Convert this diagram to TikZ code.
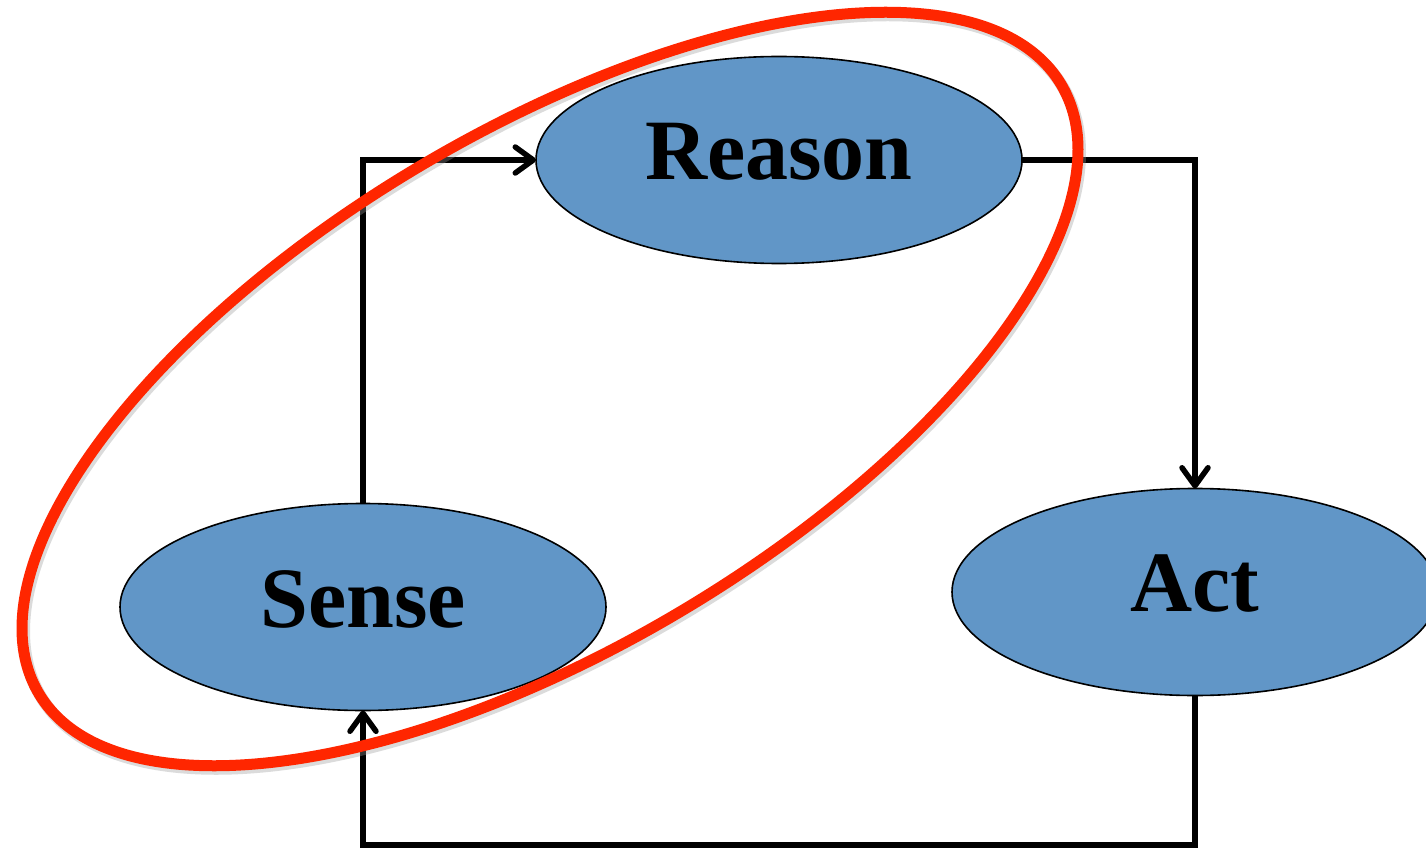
\documentclass[tikz,border=0pt]{standalone}
\usepackage{fontspec}
\setmainfont{Liberation Serif}
\usetikzlibrary{shapes.geometric,arrows.meta}
\definecolor{nodeblue}{RGB}{97,150,199}
\definecolor{ringred}{RGB}{255,38,0}
\begin{document}
\begin{tikzpicture}[x=1pt,y=-1pt,
  blob/.style={ellipse,draw=black,line width=1.6pt,fill=nodeblue,
    minimum width=486pt,minimum height=207pt,inner sep=0pt,outer sep=0pt},
  lbl/.style={font=\bfseries\fontsize{86}{86}\selectfont,inner sep=0pt},
  conn/.style={line width=5.5pt,line join=miter,
    -{Straight Barb[length=18pt,width=26pt,line cap=round,line join=round]}}]
\useasboundingbox (0,0) rectangle (1426,850);
\clip (0,0) rectangle (1426,850);
\fill[white] (0,0) rectangle (1426,850);
% nodes
\node[blob] (reason) at (779,160) {};
\node[blob] (sense) at (363,607) {};
\node[blob] (act) at (1195,592) {};
\node[lbl] (treason) at (779,152) {Reason};
\node[lbl] (tsense) at (363,599) {Sense};
\node[lbl] (tact) at (1195,584) {Act};
% connectors
\coordinate (c1) at (sense.north |- reason.west);
\coordinate (c2) at (act.north |- reason.east);
\coordinate (c3) at (1195,845);
\coordinate (c4) at (363,845);
\draw[conn] (sense.north) -- (c1) -- (reason.west);
\draw[conn] (reason.east) -- (c2) -- (act.north);
\draw[conn] (act.south) -- (c3) -- (c4) -- (sense.south);
% red ring with faint shadow
\draw[black!40,opacity=0.35,line width=12pt,rotate around={30.8:(552,392)}]
  (552,392) ellipse [x radius=595, y radius=258];
\draw[ringred,line width=11pt,rotate around={30.8:(550,389)}]
  (550,389) ellipse [x radius=595, y radius=258];
\end{tikzpicture}
\end{document}
